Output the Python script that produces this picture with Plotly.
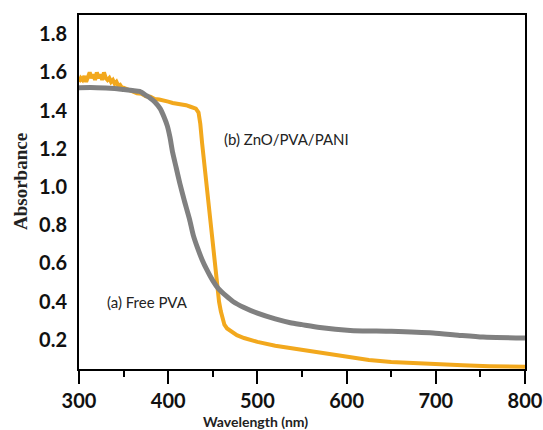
import plotly.graph_objects as go

# Free PVA (gray)
wl_pva = [300, 320, 340, 350, 360, 368, 375, 380, 385, 391, 395, 399, 402, 405, 409, 413,
          418, 424, 428, 433, 438, 443, 450, 456, 465, 473, 485, 500, 520, 537, 550, 570,
          604, 650, 697, 725, 753, 800]
abs_pva = [1.52, 1.52, 1.515, 1.51, 1.505, 1.50, 1.48, 1.465, 1.445, 1.41, 1.37, 1.32, 1.26,
           1.18, 1.10, 1.02, 0.93, 0.83, 0.75, 0.68, 0.62, 0.57, 0.51, 0.47, 0.43, 0.40, 0.37,
           0.34, 0.31, 0.29, 0.28, 0.265, 0.25, 0.245, 0.236, 0.225, 0.215, 0.21]

# ZnO/PVA/PANI (orange)
wl_zno = [300, 302, 304, 306, 308, 310, 312, 314, 316, 318, 320, 322, 324, 326, 328, 330,
          332, 334, 336, 338, 340, 342, 344, 346, 348, 350, 355, 360, 365, 370, 375, 380,
          385, 390, 395, 400, 405, 410, 415, 420, 425, 428, 431, 434, 436, 438, 440, 442,
          444, 446, 449, 452, 455, 457, 459, 461, 463, 466, 470, 477, 485, 500, 520, 540,
          560, 580, 596, 610, 625, 650, 675, 700, 730, 760, 800]
abs_zno = [1.55, 1.57, 1.56, 1.58, 1.55, 1.57, 1.60, 1.57, 1.59, 1.56, 1.60, 1.57, 1.59,
           1.56, 1.60, 1.57, 1.56, 1.57, 1.55, 1.56, 1.54, 1.55, 1.53, 1.535, 1.52, 1.52,
           1.51, 1.505, 1.49, 1.488, 1.475, 1.472, 1.46, 1.458, 1.45, 1.447, 1.44, 1.437,
           1.43, 1.428, 1.42, 1.417, 1.41, 1.39, 1.33, 1.23, 1.15, 1.07, 0.98, 0.89, 0.75,
           0.62, 0.47, 0.40, 0.35, 0.305, 0.28, 0.26, 0.245, 0.225, 0.21, 0.19, 0.17, 0.155,
           0.14, 0.13, 0.118, 0.105, 0.095, 0.085, 0.078, 0.072, 0.067, 0.063, 0.06]

x_ticks = [300, 400, 500, 600, 700, 800]
y_ticks = [0.2, 0.4, 0.6, 0.8, 1.0, 1.2, 1.4, 1.6, 1.8]

L, R, T, B = 79, 18, 15, 61
W, H = 543, 430
pw = W - L - R
ph = H - T - B

fig = go.Figure()
fig.add_trace(go.Scatter(x=wl_zno, y=abs_zno, mode="lines",
                         line=dict(color="#F2A81D", width=4), showlegend=False))
fig.add_trace(go.Scatter(x=wl_pva, y=abs_pva, mode="lines",
                         line=dict(color="#808080", width=5, shape="spline", smoothing=0.6),
                         showlegend=False))

tickfont = dict(family="Lato", size=20, color="#111111", weight="bold")

fig.update_layout(
    width=W, height=H,
    margin=dict(l=L, r=R, t=T, b=B, autoexpand=False),
    plot_bgcolor="white", paper_bgcolor="white",
    xaxis=dict(range=[300, 800], tickvals=x_ticks, ticks="outside", ticklen=13, tickwidth=2,
               tickcolor="black", showline=True, linecolor="black", linewidth=2, mirror=True,
               showgrid=False, zeroline=False, tickfont=tickfont, automargin=False,
               minor=dict(ticks="outside", ticklen=6, tickwidth=2, tickcolor="black",
                          dtick=50, showgrid=False)),
    yaxis=dict(range=[0.048, 1.9], tickvals=y_ticks, tickformat=".1f", ticks="",
               showline=True, linecolor="black", linewidth=2, mirror=True, automargin=False,
               showgrid=False, zeroline=False, tickfont=tickfont, ticklabelstandoff=6),
    annotations=[
        dict(text="(b) ZnO/PVA/PANI", x=460, y=1.25, xref="x", yref="y", xanchor="left",
             showarrow=False, font=dict(family="Lato", size=15, color="#222222")),
        dict(text="(a) Free PVA", x=329, y=0.40, xref="x", yref="y", xanchor="left",
             showarrow=False, font=dict(family="Lato", size=15, color="#222222")),
        dict(text="<b>Wavelength (nm)</b>", x=(255 - L) / pw, y=(H - B - 421) / ph,
             xref="paper", yref="paper", xanchor="center", yanchor="middle",
             showarrow=False, font=dict(family="Lato", size=14, color="#222222")),
        dict(text="<b>Absorbance</b>", x=(20 - L) / pw, y=(H - B - 182) / ph,
             xref="paper", yref="paper", xanchor="center", yanchor="middle",
             textangle=-90, showarrow=False,
             font=dict(family="Liberation Serif", size=19, color="#222222")),
    ],
)

fig.write_html("out.html")
